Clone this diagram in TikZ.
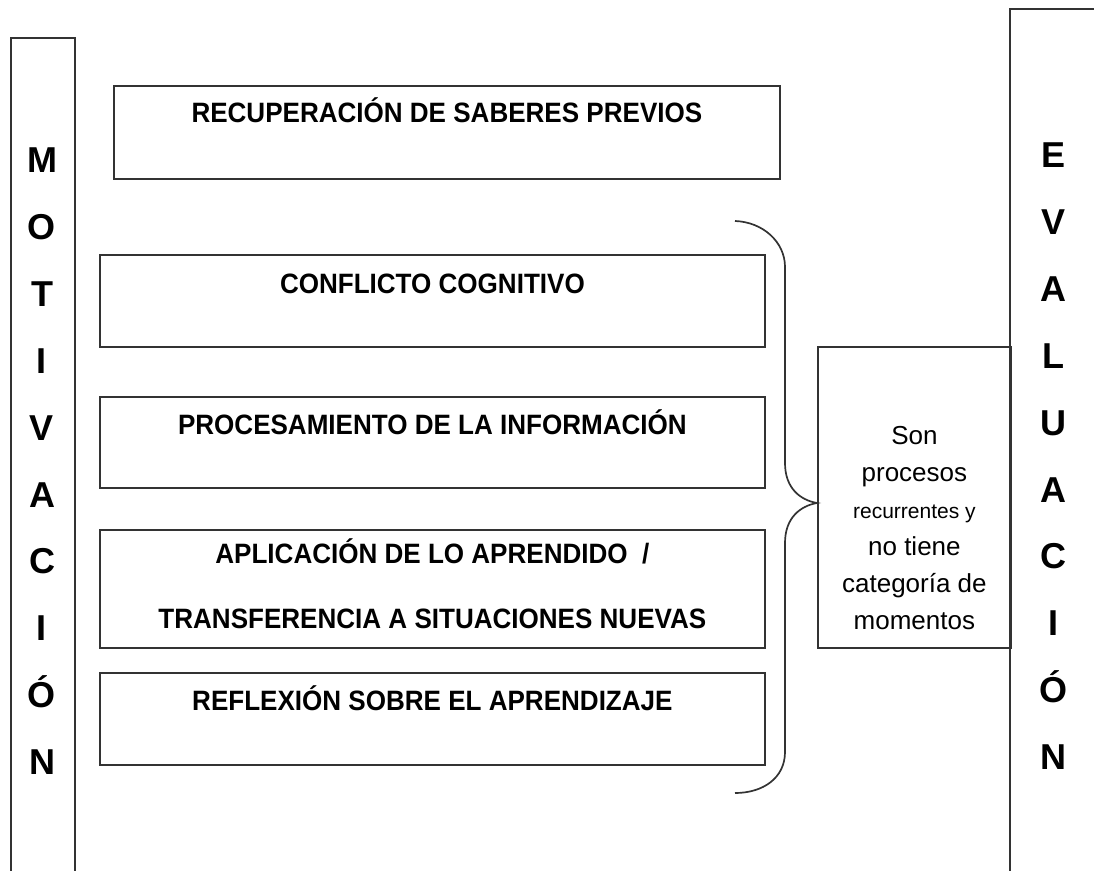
\documentclass[tikz,border=0pt]{standalone}
\usepackage{fontspec}
\setmainfont{Liberation Sans}
\newfontfamily\cajafont[FakeStretch=0.93]{Liberation Sans}
\usepackage{tikz}
\usetikzlibrary{positioning, calc}
\tikzstyle{caja}=[draw=black!80,line width=1.8pt,rectangle,inner sep=0pt,anchor=north west]
\tikzstyle{rotulo}=[font=\cajafont\bfseries\fontsize{28}{34}\selectfont,anchor=base,inner sep=0pt]
\tikzstyle{letra}=[font=\bfseries\fontsize{36}{40}\selectfont,anchor=base,inner sep=0pt]
\tikzstyle{nota}=[font=\fontsize{26}{37}\selectfont,align=center,anchor=north,inner sep=0pt]
\tikzstyle{llave}=[draw=black!80,line width=1.7pt]

\begin{document}
\begin{tikzpicture}[x=1pt,y=-1pt]
\useasboundingbox (0,0) rectangle (1094,870);
% columnas
\node [caja, minimum width=64pt, minimum height=850pt] (motiv) at (10,37) {};
\node [caja, minimum width=100pt, minimum height=880pt] (evalu) at (1009,8) {};
\foreach \l [count=\i from 0] in {M,O,T,I,V,A,C,I,Ó,N}
  \node [letra] (mot\i) at (42,172.5+66.9*\i) {\l};
\foreach \l [count=\i from 0] in {E,V,A,L,U,A,C,I,Ó,N}
  \node [letra] (eva\i) at (1053,167.5+66.9*\i) {\l};
% momentos
\node [caja, minimum width=666pt, minimum height=93pt] (recup) at (113,85) {};
\node [caja, minimum width=665pt, minimum height=92pt] (confl) at (99,254) {};
\node [caja, minimum width=665pt, minimum height=91pt] (proce) at (99,396) {};
\node [caja, minimum width=665pt, minimum height=118pt] (aplic) at (99,529) {};
\node [caja, minimum width=665pt, minimum height=92pt] (refle) at (99,672) {};
\node [rotulo] (recupT) at ($(recup.north)+(0,37)$) {RECUPERACIÓN DE SABERES PREVIOS};
\node [rotulo] (conflT) at ($(confl.north)+(0,39)$) {CONFLICTO COGNITIVO};
\node [rotulo] (proceT) at ($(proce.north)+(0,38)$) {PROCESAMIENTO DE LA INFORMACIÓN};
\node [rotulo] (aplicT) at ($(aplic.north)+(0,34)$) {APLICACIÓN DE LO APRENDIDO \ /};
\node [rotulo] (aplicU) at ($(aplic.north)+(0,99)$) {TRANSFERENCIA A SITUACIONES NUEVAS};
\node [rotulo] (refleT) at ($(refle.north)+(0,38)$) {REFLEXIÓN SOBRE EL APRENDIZAJE};
% nota
\node [caja, minimum width=193pt, minimum height=301pt] (lado) at (817,346) {};
\node [nota] (ladoT) at ($(lado.north)+(0,80)$)
  {Son\\procesos\\{\fontsize{21}{37}\selectfont recurrentes y}\\no tiene\\categoría de\\momentos};
% llave
\coordinate (llaveA) at (735,221);
\coordinate (llaveB) at (735,793);
\coordinate (punta) at (817,503);
\draw [llave] (llaveA) .. controls (763,222) and (785,242) .. (785,267) -- (785,463)
  .. controls (785,488) and (800,500) .. (punta)
  .. controls (800,506) and (785,518) .. (785,543) -- (785,752)
  .. controls (785,778) and (763,793) .. (llaveB);
\end{tikzpicture}
\end{document}
